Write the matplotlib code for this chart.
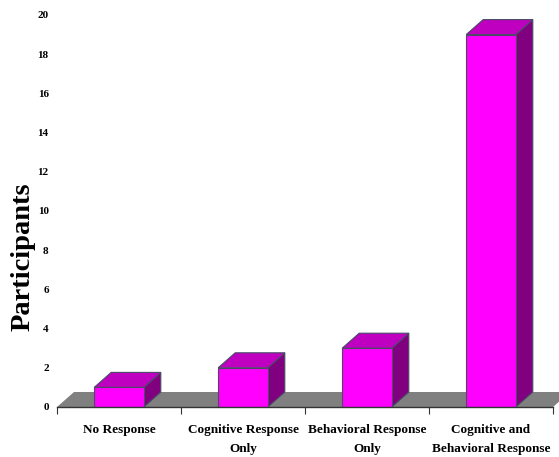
import matplotlib
matplotlib.use("Agg")
import matplotlib.pyplot as plt
from matplotlib.ticker import FixedLocator, NullFormatter

categories = ["No Response", "Cognitive Response\nOnly",
              "Behavioral Response\nOnly", "Cognitive and\nBehavioral Response"]
participants = [1, 2, 3, 19]
yticks = list(range(0, 21, 2))

front_col = "#ff00ff"
top_col = "#c000c0"
side_col = "#800080"
edge_col = "#4a4a66"
floor_col = "#808080"

plt.rcParams['font.family'] = ['Liberation Serif', 'DejaVu Serif']
plt.rcParams['font.weight'] = 'bold'

fig = plt.figure(figsize=(5.59, 4.57), dpi=100)
ax = fig.add_axes([57/559, 50/457, 496/559, 392/457])
n = len(categories)
ax.set_xlim(0, n)
ax.set_ylim(0, 20)

# depth offset (17px right, 15px up) in data units
ddx = 0.17 / (ax.get_position().width * 5.59 / n)
ddy = 0.15 / (ax.get_position().height * 4.57 / 20)


def poly(pts, color, z):
    xs, ys = zip(*pts)
    ax.fill(xs, ys, facecolor=color, edgecolor=edge_col, lw=0.8, zorder=z,
            clip_on=False)


# floor
ax.fill([0, n, n + ddx, ddx], [0, 0, ddy, ddy], facecolor=floor_col,
        edgecolor='none', zorder=1, clip_on=False)

centers = [i + 0.5 for i in range(n)]
w = 0.4
bars = ax.bar(centers, participants, width=w, color=front_col,
              edgecolor=edge_col, linewidth=0.8, zorder=4)
for b in bars:
    x0, x1, h = b.get_x(), b.get_x() + b.get_width(), b.get_height()
    poly([(x1, 0), (x1 + ddx, ddy), (x1 + ddx, h + ddy), (x1, h)], side_col, 3)
    poly([(x0, h), (x1, h), (x1 + ddx, h + ddy), (x0 + ddx, h + ddy)], top_col, 3)

for s in ['top', 'right', 'left']:
    ax.spines[s].set_visible(False)
ax.spines['bottom'].set_color('#333333')
ax.spines['bottom'].set_linewidth(1.0)
ax.spines['bottom'].set_zorder(5)

ax.set_yticks(yticks)
ax.set_yticklabels([str(t) for t in yticks], fontsize=8, fontweight='bold')
ax.tick_params(axis='y', length=0, pad=6)

ax.xaxis.set_major_locator(FixedLocator(range(n + 1)))
ax.xaxis.set_major_formatter(NullFormatter())
ax.xaxis.set_minor_locator(FixedLocator(centers))
ax.set_xticklabels(categories, minor=True, fontsize=9.5, fontweight='bold',
                   linespacing=1.75)
ax.tick_params(axis='x', which='major', length=5, color='#333333')
ax.tick_params(axis='x', which='minor', length=0, pad=12.5)

ax.set_ylabel("Participants", fontsize=20.5, fontweight='bold')
ax.yaxis.set_label_coords(-0.044, 0.383)

fig.savefig("out.png", dpi=100)
